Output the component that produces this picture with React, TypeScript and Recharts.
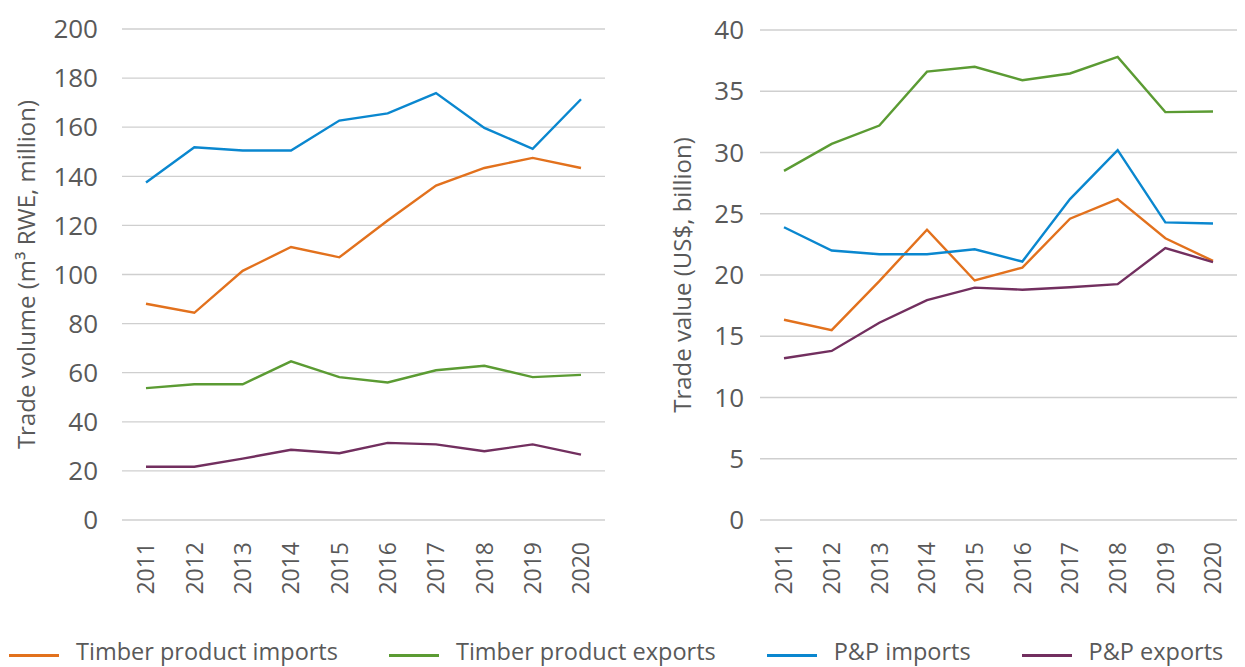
import React from 'react'
import { LineChart, Line, XAxis, YAxis, CartesianGrid } from 'recharts'

const years = ['2011', '2012', '2013', '2014', '2015', '2016', '2017', '2018', '2019', '2020']

// Trade volume, m3 RWE million
const timberImportsVol = [88.1, 84.4, 101.5, 111.2, 107.0, 122.0, 136.2, 143.4, 147.5, 143.4]
const timberExportsVol = [53.7, 55.3, 55.3, 64.6, 58.2, 56.0, 61.0, 62.8, 58.2, 59.1]
const ppImportsVol = [137.5, 151.8, 150.5, 150.5, 162.7, 165.6, 173.9, 159.7, 151.2, 171.4]
const ppExportsVol = [21.7, 21.7, 25.0, 28.6, 27.2, 31.4, 30.8, 28.0, 30.8, 26.6]

// Trade value, US$ billion
const timberImportsVal = [16.35, 15.5, 19.5, 23.7, 19.55, 20.6, 24.6, 26.2, 23.0, 21.15]
const timberExportsVal = [28.5, 30.7, 32.2, 36.6, 37.0, 35.9, 36.45, 37.8, 33.3, 33.35]
const ppImportsVal = [23.9, 22.0, 21.7, 21.7, 22.1, 21.1, 26.2, 30.2, 24.3, 24.2]
const ppExportsVal = [13.2, 13.8, 16.1, 17.95, 18.97, 18.8, 19.0, 19.25, 22.2, 21.05]

const volTicks = [0, 20, 40, 60, 80, 100, 120, 140, 160, 180, 200]
const valTicks = [0, 5, 10, 15, 20, 25, 30, 35, 40]

const SERIES = [
  { key: 'timberImports', name: 'Timber product imports', color: '#E2711D' },
  { key: 'timberExports', name: 'Timber product exports', color: '#5B9B33' },
  { key: 'ppImports', name: 'P&P imports', color: '#0A87CF' },
  { key: 'ppExports', name: 'P&P exports', color: '#722F5F' },
]

const volData = years.map((y, i) => ({
  year: y,
  timberImports: timberImportsVol[i],
  timberExports: timberExportsVol[i],
  ppImports: ppImportsVol[i],
  ppExports: ppExportsVol[i],
}))

const valData = years.map((y, i) => ({
  year: y,
  timberImports: timberImportsVal[i],
  timberExports: timberExportsVal[i],
  ppImports: ppImportsVal[i],
  ppExports: ppExportsVal[i],
}))

const FONT = '"Open Sans", sans-serif'
const TEXT = '#595959'
const GRID = '#CFCFCF'

function YearTick({ x, y, payload }: any) {
  return (
    <g transform={`translate(${x},${y})`}>
      <text transform="rotate(-90)" textAnchor="end" dy="0.36em" fill={TEXT} fontSize={23} fontFamily={FONT}>
        {payload.value}
      </text>
    </g>
  )
}

function axisTitle(text: string, dx: number) {
  return (props: any) => {
    const vb = props.viewBox || {}
    const cx = vb.x + dx
    const cy = vb.y + vb.height / 2
    return (
      <text x={cx} y={cy} transform={`rotate(-90, ${cx}, ${cy})`} textAnchor="middle" dy="0.36em"
        fill={TEXT} fontSize={24} fontFamily={FONT}>
        {text}
      </text>
    )
  }
}

function Panel({ data, width, top, yWidth, tickMargin, domain, ticks, title, titleX }: any) {
  return (
    <LineChart width={width} height={620} data={data} margin={{ top, right: 8, left: 0, bottom: 0 }}>
      <CartesianGrid vertical={false} stroke={GRID} strokeWidth={1.3} />
      <XAxis dataKey="year" axisLine={false} tickLine={false} tickSize={0} tickMargin={22} height={100}
        interval={0} padding={{ left: 24, right: 24 }} tick={<YearTick />} />
      <YAxis domain={domain} ticks={ticks} axisLine={false} tickLine={false} tickSize={0}
        tickMargin={tickMargin} width={yWidth} interval={0}
        tick={{ fill: TEXT, fontSize: 26, fontFamily: FONT }}
        label={axisTitle(title, titleX)} />
      {SERIES.map(s => (
        <Line key={s.key} type="linear" dataKey={s.key} stroke={s.color} strokeWidth={2.4}
          dot={false} activeDot={false} isAnimationActive={false} />
      ))}
    </LineChart>
  )
}

export default function App() {
  return (
    <div style={{ position: 'absolute', left: 0, top: 0, width: 1245, height: 667, overflow: 'hidden', background: '#fff', fontFamily: FONT }}>
      <div style={{ position: 'absolute', left: 0, top: 0 }}>
        <Panel data={volData} width={613} top={29} yWidth={122} tickMargin={24}
          domain={[0, 200]} ticks={volTicks} title="Trade volume (m³ RWE, million)" titleX={26} />
      </div>
      <div style={{ position: 'absolute', left: 620, top: 0 }}>
        <Panel data={valData} width={625} top={30} yWidth={140} tickMargin={16}
          domain={[0, 40]} ticks={valTicks} title="Trade value (US$, billion)" titleX={62} />
      </div>
      <div style={{ position: 'absolute', left: 9, top: 639, display: 'flex', gap: 51, whiteSpace: 'nowrap' }}>
        {SERIES.map(s => (
          <div key={s.key} style={{ display: 'flex', alignItems: 'center', fontSize: 23.5, lineHeight: '24px', color: TEXT }}>
            <span style={{ display: 'inline-block', width: 50, height: 3, background: s.color, marginRight: 17, position: 'relative', top: 4 }} />
            <span>{s.name}</span>
          </div>
        ))}
      </div>
    </div>
  )
}
